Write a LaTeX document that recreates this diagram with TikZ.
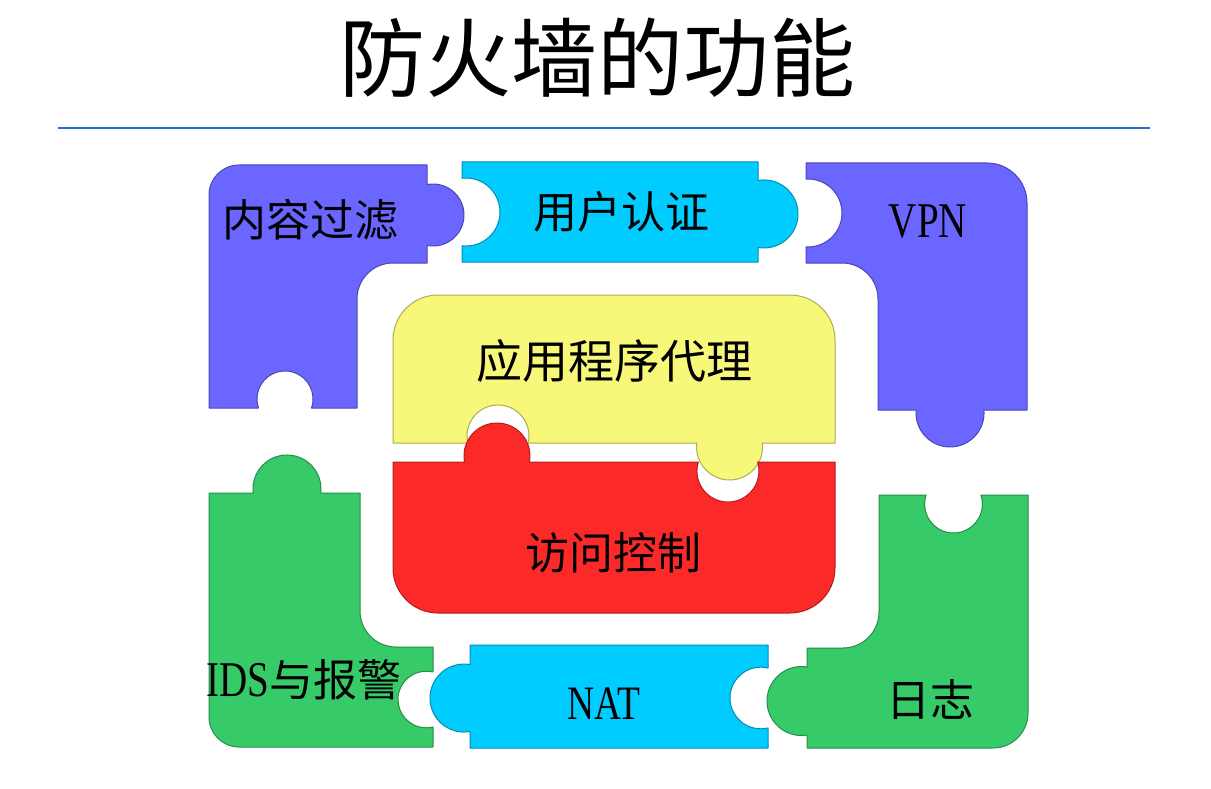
\documentclass[tikz,border=0pt]{standalone}
\usepackage{fontspec}
\setmainfont{Liberation Serif}
\newfontfamily\cjk{Noto Sans CJK SC}
\newfontfamily\lat[FakeStretch=0.78]{Liberation Serif}
\definecolor{pur}{RGB}{106,102,255}
\definecolor{cya}{RGB}{0,204,255}
\definecolor{yel}{RGB}{247,247,122}
\definecolor{rd}{RGB}{252,41,41}
\definecolor{grn}{RGB}{54,203,104}
\definecolor{rulec}{RGB}{35,110,200}
\begin{document}
\begin{tikzpicture}[x=1pt,y=1pt,yscale=-1,
  piece/.style={fill=#1, draw=#1!70!black, line width=1pt, line join=round},
  lbl/.style={inner sep=0pt, font=\cjk\fontsize{44}{44}\selectfont},
  ttl/.style={inner sep=0pt, font=\cjk\fontsize{86}{86}\selectfont}]
\useasboundingbox (0,0) rectangle (1211,789);
\fill[white] (0,0) rectangle (1211,789);

% title and rule
\node[ttl] (title) at (597,58) {防火墙的功能};
\coordinate (ruleL) at (58,128);
\coordinate (ruleR) at (1150,128);
\draw[rulec, line width=2pt] (ruleL) -- (ruleR);

% purple top-left
\path[piece=pur] (209,408) -- (209,195) arc[start angle=180, end angle=270, radius=30pt]
  -- (427,165) -- (427,184.6) arc[start angle=-101.2, end angle=101.2, radius=31pt]
  -- (427,263) -- (393,263) arc[start angle=-90, end angle=-180, radius=36pt]
  -- (357,408) -- (311.5,408) arc[start angle=18.8, end angle=-198.8, radius=28pt]
  -- cycle;
% cyan top
\path[piece=cya] (462,162) -- (758,162) -- (758,180.5)
  arc[start angle=-100.2, end angle=100.2, radius=34pt]
  -- (758,262) -- (462,262) -- (462,245.8)
  arc[start angle=96.75, end angle=-96.75, radius=34pt] -- cycle;
% purple top-right
\path[piece=pur] (806,163) -- (987,163) arc[start angle=-90, end angle=0, radius=40pt]
  -- (1027,410) -- (983.9,410) arc[start angle=-5.06, end angle=185.06, radius=34pt]
  -- (878,410) -- (878,299) arc[start angle=0, end angle=-90, radius=36pt]
  -- (806,263) -- (806,246.9) arc[start angle=93.37, end angle=-93.37, radius=34pt]
  -- cycle;
% yellow
\path[piece=yel] (393,443) -- (393,340) arc[start angle=180, end angle=270, radius=45pt]
  -- (790,295) arc[start angle=270, end angle=360, radius=45pt]
  -- (835,443) -- (762.3,443) arc[start angle=-6.96, end angle=186.96, radius=33pt]
  -- (528.2,443) arc[start angle=13.05, end angle=-193.05, radius=31pt]
  -- cycle;
% red
\path[piece=rd] (393,462) -- (464.55,462) arc[start angle=169.5, end angle=370.5, radius=33pt]
  -- (698.3,462) arc[start angle=196.9, end angle=-16.9, radius=31pt]
  -- (835,462) -- (835,568) arc[start angle=0, end angle=90, radius=45pt]
  -- (438,613) arc[start angle=90, end angle=180, radius=45pt] -- cycle;
% green bottom-left
\path[piece=grn] (209,493) -- (253.24,493) arc[start angle=173.2, end angle=366.8, radius=34pt]
  -- (360,493) -- (360,611) arc[start angle=180, end angle=90, radius=36pt]
  -- (433,647) -- (433,672) arc[start angle=-76.3, end angle=-283.7, radius=28.3pt]
  -- (433,747) -- (239,747) arc[start angle=90, end angle=180, radius=30pt] -- cycle;
% cyan bottom
\path[piece=cya] (470,645) -- (768,645) -- (768,668.05)
  arc[start angle=-76.5, end angle=-283.5, radius=30.8pt]
  -- (768,748) -- (470,748) -- (470,731.5)
  arc[start angle=79.8, end angle=280.2, radius=34pt] -- cycle;
% green bottom-right
\path[piece=grn] (879,495) -- (926.07,495) arc[start angle=198.4, end angle=-18.4, radius=28.9pt]
  -- (1028,495) -- (1028,713) arc[start angle=0, end angle=90, radius=35pt]
  -- (807,748) -- (807,735.06) arc[start angle=80.8, end angle=279.2, radius=34.5pt]
  -- (807,648) -- (843,648) arc[start angle=90, end angle=0, radius=36pt] -- cycle;

% labels
\node[lbl] (t1) at (310,220) {内容过滤};
\node[lbl] (t2) at (621,212) {用户认证};
\node[lbl, font=\lat\fontsize{50}{50}\selectfont] (t3) at (928,222) {VPN};
\node[lbl, font=\cjk\fontsize{46}{46}\selectfont] (t4) at (614,361) {应用程序代理};
\node[lbl] (t5) at (613,553) {访问控制};
\node[lbl] (t6) at (304,680) {{\lat\fontsize{50}{50}\selectfont IDS}与报警};
\node[lbl, font=\lat\fontsize{48}{48}\selectfont] (t7) at (604,704) {NAT};
\node[lbl] (t8) at (930,700) {日志};
\end{tikzpicture}
\end{document}
